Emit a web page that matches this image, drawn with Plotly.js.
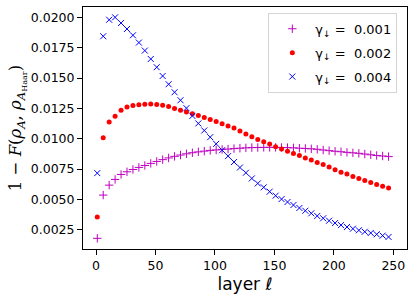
<!DOCTYPE html>
<html>
<head>
<meta charset="utf-8">
<script src="https://cdn.plot.ly/plotly-3.0.1.min.js"></script>
<style>html,body{margin:0;padding:0;background:#fff;}#chart{width:415px;height:299px;}</style>
</head>
<body>
<div id="chart"></div>
<script>
const layers = [1,6,11,16,21,26,31,36,41,46,51,56,61,66,71,76,81,86,91,96,101,106,111,116,121,126,131,136,141,146,151,156,161,166,171,176,181,186,191,196,201,206,211,216,221,226,231,236,241,246];

const gamma001 = [0.0018,0.00536,0.00618,0.00665,0.00706,0.00728,0.00747,0.00764,0.0078,0.00797,0.00813,0.00828,0.00842,0.00855,0.00866,0.00876,0.00885,0.00892,0.00898,0.00904,0.00908,0.00912,0.00915,0.00919,0.00922,0.00925,0.00927,0.00928,0.00929,0.00929,0.00929,0.00928,0.00927,0.00925,0.00922,0.0092,0.00917,0.00913,0.00907,0.00902,0.00897,0.00893,0.00888,0.00884,0.0088,0.00874,0.00868,0.00862,0.00858,0.00853];

const gamma002 = [0.00355,0.01008,0.01137,0.01186,0.01235,0.01262,0.01274,0.01279,0.01284,0.01287,0.01282,0.01276,0.01265,0.01249,0.01235,0.01221,0.01205,0.01192,0.01175,0.01159,0.01142,0.01123,0.01106,0.01088,0.01063,0.0104,0.01016,0.00994,0.00975,0.00956,0.00934,0.00915,0.00896,0.00879,0.00863,0.00841,0.00824,0.00804,0.00787,0.00767,0.00744,0.00725,0.00709,0.0069,0.00673,0.00657,0.0064,0.00624,0.00608,0.00594];

const gamma004 = [0.00717,0.01844,0.0198,0.02,0.01953,0.01904,0.01852,0.01792,0.01726,0.01657,0.01589,0.01517,0.01449,0.01383,0.01317,0.01252,0.01188,0.01126,0.01068,0.01013,0.00958,0.00906,0.00857,0.00808,0.00763,0.0072,0.00673,0.00632,0.006,0.00564,0.00531,0.00503,0.00479,0.00454,0.0043,0.00407,0.00386,0.00364,0.00345,0.00325,0.00306,0.00289,0.00273,0.00259,0.00246,0.00234,0.00224,0.00213,0.00202,0.00191];

const seriesNames = ['γ<sub>↓</sub> =\u00a0\u00a00.001','γ<sub>↓</sub> =\u00a0\u00a00.002','γ<sub>↓</sub> =\u00a0\u00a00.004'];
const xTicks = [0,50,100,150,200,250];
const yTicks = [0.0025,0.005,0.0075,0.01,0.0125,0.015,0.0175,0.02];

const traces = [
  {x: layers, y: gamma001, name: seriesNames[0], legendgroup: 'a', mode: 'markers', type: 'scatter',
   marker: {symbol: 'cross-thin', size: 6, color: '#bf00bf', line: {color: '#bf00bf', width: 1}}},
  {x: layers, y: gamma002, name: seriesNames[1], legendgroup: 'b', mode: 'markers', type: 'scatter',
   marker: {symbol: 'circle', size: 5, color: '#ff0000'}},
  {x: layers, y: gamma004, name: seriesNames[2], legendgroup: 'c', mode: 'markers', type: 'scatter',
   marker: {symbol: 'x-thin', size: 6, color: '#0000ff', line: {color: '#0000ff', width: 1}}}
];

const axisCommon = {
  showline: true, linecolor: '#000', linewidth: 1, mirror: true,
  ticks: 'outside', ticklen: 5, tickwidth: 1, tickcolor: '#000',
  showgrid: false, zeroline: false,
  tickfont: {family: 'DejaVu Sans', size: 12.5, color: '#000'}
};

const layout = {
  width: 415, height: 299,
  margin: {l: 83, r: 8, t: 7, b: 50},
  paper_bgcolor: '#fff', plot_bgcolor: '#fff',
  showlegend: true,
  xaxis: Object.assign({}, axisCommon, {
    range: [-11, 261.5], tickvals: xTicks, ticktext: xTicks.map(String),
    title: {text: 'layer <i>ℓ</i>', font: {family: 'DejaVu Sans', size: 17, color: '#000'}, standoff: 6}
  }),
  yaxis: Object.assign({}, axisCommon, {
    range: [0.00092, 0.02085], tickvals: yTicks, ticktext: yTicks.map(v => v.toFixed(4)),
    title: {text: '1 − <i>F</i>(<i>ρ</i><sub><i>A</i></sub>, <i>ρ</i><sub><i>A</i><sub>Haar</sub></sub>)', font: {family: 'DejaVu Serif', size: 16.5, color: '#000'}, standoff: 4}
  }),
  legend: {
    x: 0.572, y: 0.976, xanchor: 'left', yanchor: 'top',
    bgcolor: 'rgba(255,255,255,0.8)', bordercolor: '#d5d5d5', borderwidth: 1,
    tracegroupgap: 4, itemwidth: 36,
    font: {family: 'DejaVu Sans', size: 13, color: '#000'}
  }
};

Plotly.newPlot('chart', traces, layout, {displayModeBar: false, staticPlot: true});
</script>
</body>
</html>
